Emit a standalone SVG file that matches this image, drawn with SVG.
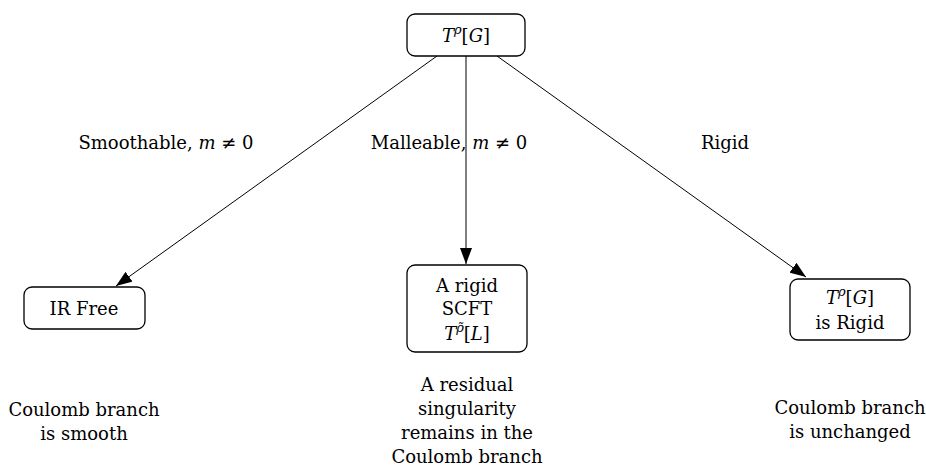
<svg xmlns="http://www.w3.org/2000/svg" width="926" height="466" viewBox="0 0 926 466">
<style>
text{font-family:"DejaVu Serif","Liberation Serif",serif;font-size:18px;fill:#000;text-anchor:middle}
.i{font-style:italic}
.box{fill:#fff;stroke:#000;stroke-width:1.3}
.edge{stroke:#000;stroke-width:1;fill:none}
</style>
<defs>
<marker id="arr" markerUnits="userSpaceOnUse" viewBox="0 0 16 12" markerWidth="16" markerHeight="12" refX="16" refY="6" orient="auto">
<path d="M0,0 L16,6 L0,12 Z" fill="#000"/>
</marker>
</defs>
<rect width="926" height="466" fill="#fff"/>
<g id="connectors">
<line class="edge" x1="437" y1="56" x2="116" y2="286" marker-end="url(#arr)"/>
<line class="edge" x1="466" y1="56" x2="466" y2="264" marker-end="url(#arr)"/>
<line class="edge" x1="497" y1="56" x2="806" y2="277" marker-end="url(#arr)"/>
<text x="166" y="149">Smoothable, <tspan class="i">m</tspan> ≠ 0</text>
<text x="449" y="149">Malleable, <tspan class="i">m</tspan> ≠ 0</text>
<text x="725" y="149">Rigid</text>
</g>
<g id="top">
<rect class="box" x="407" y="14" width="118" height="42" rx="8"/>
<text x="466" y="42"><tspan class="i">T</tspan><tspan class="i" font-size="13" dy="-8">ρ</tspan><tspan dy="8">[</tspan><tspan class="i">G</tspan>]</text>
</g>
<g id="irfree">
<rect class="box" x="24" y="287" width="121" height="42" rx="8"/>
<text x="84" y="315">IR Free</text>
</g>
<g id="rigidscft">
<rect class="box" x="407" y="265" width="120" height="87" rx="8"/>
<text x="467" y="292">A rigid</text>
<text x="467" y="315">SCFT</text>
<text x="467" y="340"><tspan class="i">T</tspan><tspan class="i" font-size="13" dy="-8">ρ̃</tspan><tspan dy="8">[</tspan><tspan class="i">L</tspan>]</text>
</g>
<g id="isrigid">
<rect class="box" x="790" y="279" width="120" height="61" rx="8"/>
<text x="850" y="304"><tspan class="i">T</tspan><tspan class="i" font-size="13" dy="-8">ρ</tspan><tspan dy="8">[</tspan><tspan class="i">G</tspan>]</text>
<text x="850" y="329">is Rigid</text>
</g>
<g id="note-left">
<text x="84" y="416">Coulomb branch</text>
<text x="84" y="440">is smooth</text>
</g>
<g id="note-mid">
<text x="467" y="391">A residual</text>
<text x="467" y="415">singularity</text>
<text x="467" y="439">remains in the</text>
<text x="467" y="463">Coulomb branch</text>
</g>
<g id="note-right">
<text x="850" y="414">Coulomb branch</text>
<text x="850" y="438">is unchanged</text>
</g>
</svg>
